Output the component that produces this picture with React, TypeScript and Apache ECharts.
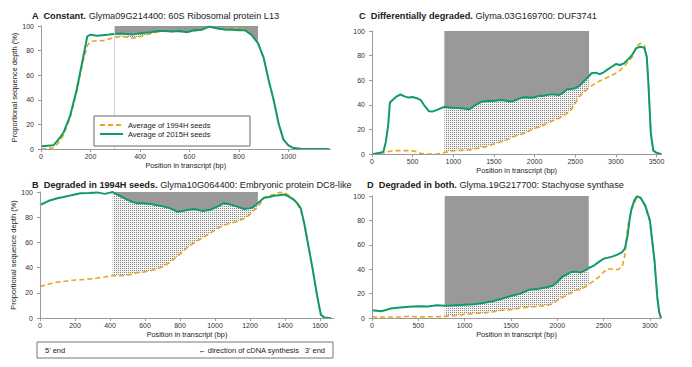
import React, { useEffect, useRef } from 'react';
import * as echarts from 'echarts';

const NAME_1994 = 'Average of 1994H seeds';
const NAME_2015 = 'Average of 2015H seeds';
const X_NAME = 'Position in transcript (bp)';
const Y_NAME = 'Proportional sequence depth (%)';
const Y_TICKS = [0, 20, 40, 60, 80, 100];

// Panel A
const A_POS = [0, 25, 50, 70, 90, 117, 144, 160, 171, 187, 200, 225, 250, 275, 295, 320, 345, 370, 395, 420, 445, 470, 500, 530, 560, 590, 620, 650, 680, 700, 725, 750, 775, 800, 825, 850, 877, 900, 920, 940, 960, 980, 1000, 1020, 1050, 1100, 1165];
const A_1994 = [0, 0.3, 1, 5, 11, 25, 46, 62, 72, 84, 87.5, 88, 88, 89.5, 90.5, 91.5, 91, 90, 91, 92.5, 94, 95, 96, 95.5, 95.5, 95, 96, 97, 99.5, 98.5, 98, 98, 97.5, 98, 97, 93.5, 86, 74, 56, 40, 21, 7.6, 3, 0.8, 0.2, 0, 0];
const A_2015 = [2.2, 2.6, 3, 7.6, 13, 26.5, 48, 64, 75, 91.6, 93, 92, 92.5, 93, 93.5, 94, 93.5, 93, 94, 94.5, 95, 96, 96, 95.5, 96, 95, 96.5, 97, 99.5, 98.5, 97.5, 97, 97, 96.5, 96.5, 93, 86, 74, 56, 40, 21, 7.6, 3, 0.8, 0.2, 0, 0];
const A_TICKS = [0, 200, 400, 600, 800, 1000];
const A_MAX = 1170;
const A_REGION = [295, 877];

// Panel B
const B_POS = [0, 50, 100, 135, 180, 231, 280, 326, 370, 400, 415, 441, 470, 498, 530, 555, 590, 632, 670, 708, 745, 784, 815, 842, 880, 927, 975, 1013, 1050, 1089, 1127, 1166, 1195, 1214, 1245, 1280, 1310, 1337, 1365, 1395, 1420, 1452, 1471, 1490, 1510, 1529, 1557, 1586, 1605, 1624, 1645, 1662];
const B_1994 = [25, 27, 28.5, 29, 30, 30.3, 31, 31.7, 32.5, 33.3, 33.8, 33.5, 33.5, 34, 35, 36, 36.4, 37.5, 39, 41, 44.5, 48.8, 52.5, 56, 59.5, 63.5, 67.5, 71, 73.5, 75.2, 76.5, 79, 81.5, 84.4, 88, 95.5, 97, 98, 99.5, 99.8, 97.5, 93.7, 90, 86, 75, 60.7, 39.6, 15.8, 2.6, 0.5, 0.2, 0];
const B_2015 = [89.7, 93, 95, 96, 97.5, 99, 99.3, 99.7, 98.5, 99.5, 100, 98, 96, 94, 92, 91, 91, 90.5, 89.5, 88.4, 87, 84.4, 85, 85.8, 86.5, 85, 86, 88.4, 91, 90, 88.4, 86.5, 87, 87.6, 91, 95.5, 96, 97, 97.5, 98, 96.5, 93.7, 91, 87, 75, 60.7, 39.6, 15.8, 2.6, 0.5, 0.2, 0];
const B_TICKS = [0, 200, 400, 600, 800, 1000, 1200, 1400, 1600];
const B_MAX = 1680;
const B_REGION = [415, 1245];

// Panel C
const C_POS = [0, 100, 140, 170, 200, 220, 260, 300, 350, 400, 450, 500, 550, 600, 650, 700, 750, 800, 850, 890, 950, 1000, 1050, 1100, 1150, 1200, 1250, 1300, 1350, 1400, 1450, 1500, 1550, 1600, 1650, 1700, 1750, 1800, 1850, 1900, 1950, 2000, 2050, 2100, 2150, 2200, 2250, 2300, 2350, 2400, 2450, 2500, 2550, 2600, 2670, 2700, 2750, 2800, 2850, 2900, 2950, 3000, 3050, 3100, 3150, 3200, 3250, 3300, 3350, 3380, 3400, 3430, 3460, 3500, 3530, 3560];
const C_1994 = [0, 0.3, 0.5, 1.5, 2, 2.5, 2.8, 3, 3, 3, 3, 2.8, 2, 0.8, 0.4, 0.3, 0.3, 0.3, 0.8, 1.4, 2.2, 3, 3, 3.2, 3.3, 3.5, 4.2, 4.9, 5.5, 6.2, 7.3, 8.4, 9.3, 10.3, 11.5, 13, 14.5, 15.7, 16.5, 17.6, 19.5, 21, 22, 23.2, 25, 26.5, 28, 29.2, 31, 33.2, 36, 41.4, 46.8, 50, 54, 55.5, 57.6, 59.5, 60.8, 62.5, 64, 65.7, 68, 71, 75, 79, 87.3, 90, 88.5, 79, 57.6, 17, 3, 1.2, 0.6, 0];
const C_2015 = [0, 1.2, 2, 10, 24, 42, 44.5, 46.8, 48.5, 47, 46, 46.5, 45.5, 44, 39, 35, 34.8, 36, 37.5, 38.5, 38, 37.8, 37.5, 37.3, 37, 36.5, 39, 41, 42.7, 43, 43.5, 43.2, 43.8, 44, 43.5, 42.7, 43.5, 45, 46, 46.3, 45.8, 46.2, 47.5, 47.3, 48, 48.6, 48.5, 48, 50, 52.7, 53, 53.5, 55.5, 58.9, 63.5, 65.7, 66.2, 65, 66.5, 68.9, 71, 73.2, 72.4, 73.8, 77, 80.5, 86, 87.3, 86.5, 79, 57.6, 17, 3, 1.2, 0.6, 0];
const C_TICKS = [0, 500, 1000, 1500, 2000, 2500, 3000, 3500];
const C_MAX = 3560;
const C_REGION = [890, 2670];

// Panel D
const D_POS = [0, 50, 100, 150, 200, 300, 400, 500, 600, 700, 785, 850, 900, 1000, 1100, 1200, 1300, 1400, 1500, 1600, 1700, 1800, 1900, 1950, 2000, 2050, 2100, 2150, 2200, 2250, 2300, 2340, 2400, 2450, 2500, 2550, 2600, 2650, 2700, 2730, 2760, 2780, 2800, 2830, 2860, 2900, 2950, 3000, 3050, 3080, 3100, 3120];
const D_1994 = [1, 0.8, 0.8, 0.8, 0.8, 0.8, 1.4, 0.8, 1, 1, 1.3, 1.6, 1.9, 3, 3.6, 4.1, 4.9, 6.3, 6.8, 8.2, 9, 9.6, 10.4, 11.7, 14.5, 16.5, 18.6, 20.5, 22.7, 23.2, 25.4, 27.5, 30.9, 33.6, 37.7, 40.4, 40, 39.6, 41.8, 51.4, 74.6, 82, 88.3, 93.7, 99, 98.6, 91, 79, 46, 17, 5, 0];
const D_2015 = [6.3, 6, 5.5, 6.5, 7.7, 8.7, 9.2, 9.6, 9.5, 10.4, 10.1, 10.2, 10.5, 10.9, 11.3, 12.3, 13.7, 15.8, 18, 20, 23.2, 24, 25.4, 26.5, 29.5, 33.6, 35.5, 37.7, 38, 37.2, 39, 41, 43.2, 46, 48.6, 49.5, 50.5, 52, 54, 56.8, 68, 80, 89, 96, 99.7, 98.6, 92.3, 80, 47, 17, 5, 0];
const D_TICKS = [0, 500, 1000, 1500, 2000, 2500, 3000];
const D_MAX = 3120;
const D_REGION = [785, 2340];

const FONT = "'Liberation Sans', Arial, sans-serif";
const GREEN = '#10996b';
const ORANGE = '#efa31d';
const AXIS = '#9a9a9a';

const PANELS = [
  { pos: A_POS, o: A_1994, g: A_2015, ticks: A_TICKS, max: A_MAX, region: A_REGION, grid: { left: 41, top: 26, width: 289.5, height: 123 }, yName: true, edgeLine: true },
  { pos: B_POS, o: B_1994, g: B_2015, ticks: B_TICKS, max: B_MAX, region: B_REGION, grid: { left: 40, top: 192, width: 294, height: 126 }, yName: true, edgeLine: false },
  { pos: C_POS, o: C_1994, g: C_2015, ticks: C_TICKS, max: C_MAX, region: C_REGION, grid: { left: 372, top: 31, width: 289.4, height: 123.3 }, yName: false, edgeLine: false },
  { pos: D_POS, o: D_1994, g: D_2015, ticks: D_TICKS, max: D_MAX, region: D_REGION, grid: { left: 372, top: 196, width: 289, height: 122 }, yName: false, edgeLine: false },
];

const TITLES = [
  { left: 32, top: 10, text: '{b|A  Constant.} Glyma09G214400: 60S Ribosomal protein L13' },
  { left: 359, top: 10, text: '{b|C  Differentially degraded.} Glyma.03G169700: DUF3741' },
  { left: 32, top: 179, text: '{b|B  Degraded in 1994H seeds.} Glyma10G064400: Embryonic protein DC8-like' },
  { left: 367, top: 179, text: '{b|D  Degraded in both.} Glyma.19G217700: Stachyose synthase' },
];

function makePattern() {
  const c = document.createElement('canvas');
  c.width = 2;
  c.height = 2;
  const ctx = c.getContext('2d')!;
  ctx.fillStyle = '#f4f4f4';
  ctx.fillRect(0, 0, 2, 2);
  ctx.fillStyle = '#868686';
  ctx.fillRect(0, 0, 1, 1);
  return { image: c, repeat: 'repeat', imageWidth: 2, imageHeight: 2 } as any;
}

export default function App() {
  const ref = useRef<HTMLDivElement>(null);
  useEffect(() => {
    if (!ref.current) return;
    const chart = echarts.init(ref.current, null, { renderer: 'svg' });
    const pattern = makePattern();

    const grids: any[] = [];
    const xAxes: any[] = [];
    const yAxes: any[] = [];
    const series: any[] = [];
    const fmt = (v: number) => String(v);

    PANELS.forEach((p, k) => {
      grids.push({ ...p.grid, containLabel: false });
      xAxes.push({
        type: 'value', gridIndex: k, min: 0, max: p.max, z: 5,
        axisLine: { show: true, lineStyle: { color: AXIS, width: 1 } },
        axisTick: { show: true, length: 3, customValues: p.ticks, lineStyle: { color: AXIS } },
        axisLabel: { customValues: p.ticks, formatter: fmt, fontSize: 7, color: '#333', margin: 4, fontFamily: FONT },
        splitLine: { show: false },
        name: X_NAME, nameLocation: 'middle', nameGap: 13,
        nameTextStyle: { fontSize: 7.3, color: '#222', fontFamily: FONT },
      });
      yAxes.push({
        type: 'value', gridIndex: k, min: 0, max: 100, interval: 20, z: 5,
        axisLine: { show: true, lineStyle: { color: AXIS, width: 1 } },
        axisTick: { show: true, length: 3, customValues: Y_TICKS, lineStyle: { color: AXIS } },
        axisLabel: { customValues: Y_TICKS, formatter: fmt, fontSize: 7, color: '#333', margin: 7, fontFamily: FONT },
        splitLine: { show: false },
        name: p.yName ? Y_NAME : '', nameLocation: 'middle', nameGap: 17, nameRotate: 90,
        nameTextStyle: { fontSize: 7.5, color: '#222', fontFamily: FONT },
      });

      const idx = p.pos.map((x, i) => i).filter((i) => p.pos[i] >= p.region[0] && p.pos[i] <= p.region[1]);
      const band = idx.map((i) => [p.pos[i], Math.min(p.o[i], p.g[i]), Math.max(p.o[i], p.g[i])]);

      // dotted band between the two curves inside the highlighted region
      series.push({
        type: 'custom', name: 'band' + k, xAxisIndex: k, yAxisIndex: k, silent: true, z: 1,
        data: band, encode: { x: 0, y: [1, 2] },
        renderItem: (params: any, api: any) => {
          if (params.dataIndex !== 0) return null;
          const upper = band.map((b) => api.coord([b[0], b[2]]));
          const lower = band.map((b) => api.coord([b[0], b[1]])).reverse();
          return { type: 'polygon', shape: { points: upper.concat(lower) }, style: { fill: pattern } };
        },
      });
      // grey block above the green line
      series.push({
        type: 'line', name: 'cap' + k, xAxisIndex: k, yAxisIndex: k, symbol: 'none', showSymbol: false,
        silent: true, lineStyle: { opacity: 0, width: 0 }, z: 1,
        data: idx.map((i) => [p.pos[i], p.g[i]]),
        areaStyle: { color: '#999999', opacity: 1, origin: 'end' },
      });

      series.push({
        type: 'line', name: NAME_1994, xAxisIndex: k, yAxisIndex: k, symbol: 'none', showSymbol: false,
        data: p.pos.map((x, i) => [x, p.o[i]]),
        lineStyle: { color: ORANGE, width: 1.6, type: [5, 3] }, itemStyle: { color: ORANGE }, z: 3,
        markLine: p.edgeLine ? {
          silent: true, symbol: ['none', 'none'], label: { show: false },
          lineStyle: { color: '#d4d4d4', width: 1, type: 'solid' },
          data: [{ xAxis: p.region[0] }],
        } : undefined,
      });
      series.push({
        type: 'line', name: NAME_2015, xAxisIndex: k, yAxisIndex: k, symbol: 'none', showSymbol: false,
        data: p.pos.map((x, i) => [x, p.g[i]]),
        lineStyle: { color: GREEN, width: 2 }, itemStyle: { color: GREEN }, z: 4,
      });
    });

    const txt = (x: number, y: number, text: string, align: string) => ({
      type: 'text', x, y, z: 20,
      style: { text, fill: '#222', fontSize: 7.5, fontFamily: FONT, textAlign: align, textVerticalAlign: 'middle' },
    });

    chart.setOption({
      animation: false,
      backgroundColor: '#ffffff',
      title: TITLES.map((t) => ({
        text: t.text, left: t.left, top: t.top, padding: 0,
        textStyle: {
          fontSize: 9.2, fontFamily: FONT, color: '#222', fontWeight: 'normal', lineHeight: 11,
          rich: { b: { fontSize: 9.2, fontFamily: FONT, color: '#222', fontWeight: 'bold', lineHeight: 11 } },
        },
      })),
      grid: grids,
      xAxis: xAxes,
      yAxis: yAxes,
      legend: {
        data: [NAME_1994, NAME_2015], orient: 'vertical', left: 94, top: 116, padding: 5,
        itemWidth: 23, itemHeight: 10, itemGap: 1, selectedMode: false, z: 10,
        itemStyle: { opacity: 0 },
        textStyle: { fontSize: 7.5, color: '#222', fontFamily: FONT },
      },
      graphic: [
        { type: 'rect', z: 9, shape: { x: 94, y: 116, width: 156, height: 30 }, style: { fill: '#fff', stroke: '#666', lineWidth: 1 } },
        { type: 'rect', z: 9, shape: { x: 37, y: 342, width: 296, height: 16 }, style: { fill: '#fff', stroke: '#777', lineWidth: 1 } },
        txt(45, 350, "5' end", 'left'),
        txt(299, 350, '\u2190 direction of cDNA synthesis', 'right'),
        txt(325, 350, "3' end", 'right'),
      ],
      series,
    });
    return () => chart.dispose();
  }, []);
  return <div ref={ref} style={{ position: 'absolute', left: 0, top: 0, width: 692, height: 367, background: '#fff' }} />;
}
